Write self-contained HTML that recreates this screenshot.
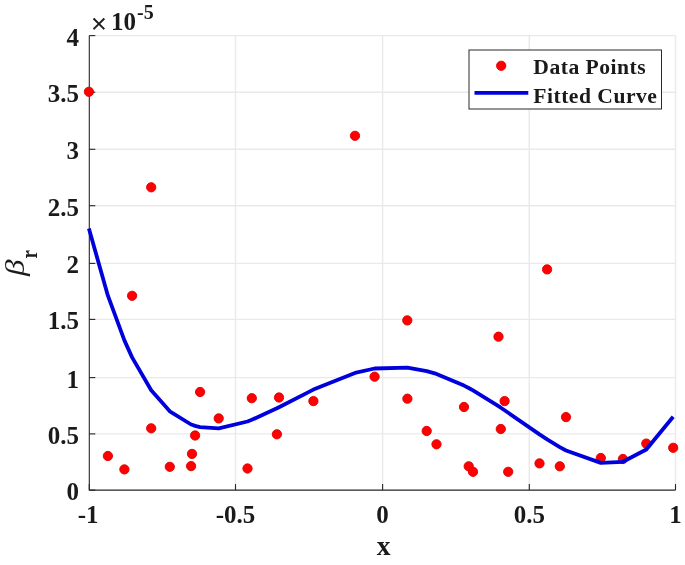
<!DOCTYPE html>
<html><head><meta charset="utf-8"><style>
html,body{margin:0;padding:0;background:#fff;}
svg{display:block;will-change:transform;}
text{font-family:"Liberation Serif",serif;font-weight:bold;fill:#1a1a1a;}
</style></head><body>
<svg width="685" height="565" viewBox="0 0 685 565">
<rect width="685" height="565" fill="#fff"/>
<g stroke="#e9e9e9" stroke-width="1.4"><line x1="235.5" y1="35.6" x2="235.5" y2="490.1"/><line x1="382.6" y1="35.6" x2="382.6" y2="490.1"/><line x1="529.3" y1="35.6" x2="529.3" y2="490.1"/><line x1="675.5" y1="35.6" x2="675.5" y2="490.1"/><line x1="89.3" y1="433.90" x2="675.5" y2="433.90"/><line x1="89.3" y1="377.60" x2="675.5" y2="377.60"/><line x1="89.3" y1="319.40" x2="675.5" y2="319.40"/><line x1="89.3" y1="263.40" x2="675.5" y2="263.40"/><line x1="89.3" y1="205.70" x2="675.5" y2="205.70"/><line x1="89.3" y1="149.30" x2="675.5" y2="149.30"/><line x1="89.3" y1="92.20" x2="675.5" y2="92.20"/><line x1="89.3" y1="35.60" x2="675.5" y2="35.60"/></g>
<g stroke="#262626" stroke-width="1.1" fill="none">
<polyline points="89.3,35.6 89.3,490.1 675.5,490.1"/>
<line x1="89.3" y1="490.1" x2="89.3" y2="484.1"/><line x1="235.5" y1="490.1" x2="235.5" y2="484.1"/><line x1="382.6" y1="490.1" x2="382.6" y2="484.1"/><line x1="529.3" y1="490.1" x2="529.3" y2="484.1"/><line x1="675.5" y1="490.1" x2="675.5" y2="484.1"/><line x1="89.3" y1="490.10" x2="95.3" y2="490.10"/><line x1="89.3" y1="433.90" x2="95.3" y2="433.90"/><line x1="89.3" y1="377.60" x2="95.3" y2="377.60"/><line x1="89.3" y1="319.40" x2="95.3" y2="319.40"/><line x1="89.3" y1="263.40" x2="95.3" y2="263.40"/><line x1="89.3" y1="205.70" x2="95.3" y2="205.70"/><line x1="89.3" y1="149.30" x2="95.3" y2="149.30"/><line x1="89.3" y1="92.20" x2="95.3" y2="92.20"/><line x1="89.3" y1="35.60" x2="95.3" y2="35.60"/>
</g>
<g fill="#ff0000" stroke="#dc0000" stroke-width="0.9"><circle cx="88.9" cy="91.8" r="4.65"/><circle cx="107.9" cy="456.0" r="4.65"/><circle cx="124.4" cy="469.4" r="4.65"/><circle cx="132.1" cy="295.8" r="4.65"/><circle cx="151.2" cy="187.3" r="4.65"/><circle cx="151.2" cy="428.3" r="4.65"/><circle cx="169.8" cy="466.8" r="4.65"/><circle cx="191.1" cy="466.1" r="4.65"/><circle cx="192.0" cy="453.9" r="4.65"/><circle cx="195.1" cy="435.5" r="4.65"/><circle cx="200.1" cy="392.0" r="4.65"/><circle cx="218.7" cy="418.4" r="4.65"/><circle cx="247.5" cy="468.5" r="4.65"/><circle cx="251.8" cy="398.2" r="4.65"/><circle cx="276.9" cy="434.3" r="4.65"/><circle cx="279.0" cy="397.5" r="4.65"/><circle cx="313.4" cy="401.1" r="4.65"/><circle cx="355.0" cy="135.8" r="4.65"/><circle cx="374.6" cy="376.7" r="4.65"/><circle cx="407.3" cy="320.4" r="4.65"/><circle cx="407.4" cy="398.7" r="4.65"/><circle cx="426.7" cy="431.0" r="4.65"/><circle cx="436.5" cy="444.3" r="4.65"/><circle cx="464.0" cy="407.0" r="4.65"/><circle cx="468.7" cy="466.3" r="4.65"/><circle cx="473.0" cy="471.8" r="4.65"/><circle cx="498.5" cy="336.7" r="4.65"/><circle cx="500.8" cy="429.0" r="4.65"/><circle cx="504.6" cy="401.1" r="4.65"/><circle cx="508.2" cy="471.8" r="4.65"/><circle cx="539.5" cy="463.4" r="4.65"/><circle cx="547.1" cy="269.4" r="4.65"/><circle cx="559.8" cy="466.3" r="4.65"/><circle cx="566.0" cy="417.1" r="4.65"/><circle cx="600.8" cy="458.0" r="4.65"/><circle cx="622.9" cy="459.0" r="4.65"/><circle cx="646.3" cy="443.6" r="4.65"/><circle cx="673.2" cy="447.8" r="4.65"/></g>
<polyline points="88.9,228.6 107.9,295.7 124.4,340.4 132.1,357.4 151.2,390.3 151.2,390.3 169.8,411.3 191.1,424.5 192.0,424.8 195.1,425.9 200.1,427.1 218.7,428.3 247.5,421.5 251.8,419.8 276.9,408.3 279.0,407.2 313.4,389.6 355.0,372.9 374.6,368.5 407.3,367.6 407.4,367.6 426.7,371.1 436.5,373.9 464.0,385.6 468.7,388.0 473.0,390.4 498.5,406.2 500.8,407.7 504.6,410.3 508.2,412.8 539.5,434.4 547.1,439.4 559.8,447.1 566.0,450.5 600.8,462.9 622.9,461.8 646.3,449.5 673.2,416.7" fill="none" stroke="#0000dc" stroke-width="3.8" stroke-linejoin="round"/>
<g font-size="25"><text x="79.0" y="500.1" text-anchor="end">0</text><text x="79.0" y="443.9" text-anchor="end">0.5</text><text x="79.0" y="387.6" text-anchor="end">1</text><text x="79.0" y="329.4" text-anchor="end">1.5</text><text x="79.0" y="273.4" text-anchor="end">2</text><text x="79.0" y="215.7" text-anchor="end">2.5</text><text x="79.0" y="159.3" text-anchor="end">3</text><text x="79.0" y="102.2" text-anchor="end">3.5</text><text x="79.0" y="45.6" text-anchor="end">4</text><text x="88.1" y="522.7" text-anchor="middle">-1</text><text x="235.5" y="522.7" text-anchor="middle">-0.5</text><text x="382.6" y="522.7" text-anchor="middle">0</text><text x="529.3" y="522.7" text-anchor="middle">0.5</text><text x="675.5" y="522.7" text-anchor="middle">1</text></g>
<text x="383.5" y="555.2" font-size="27.5" text-anchor="middle">x</text>
<g transform="translate(23.7,276) rotate(-90)">
<text x="0" y="0" font-size="27.5" style="font-style:italic;font-weight:normal" transform="scale(1.2,1)">β</text>
<text x="0" y="0" font-size="23" transform="translate(17.6,13) scale(0.82,1)">r</text>
</g>
<text x="91" y="33" font-size="28" style="font-weight:normal" stroke="#1a1a1a" stroke-width="0.5">×</text>
<text x="111" y="29.6" font-size="25">10</text>
<text x="137" y="19.0" font-size="20">-5</text>
<rect x="469" y="50" width="192.5" height="59" fill="#fff" stroke="#2a2a2a" stroke-width="1.0"/>
<circle cx="501.2" cy="65.8" r="4.65" fill="#ff0000" stroke="#dc0000" stroke-width="0.9"/>
<line x1="474.5" y1="92.9" x2="528.3" y2="92.9" stroke="#0000dc" stroke-width="3.6"/>
<g font-size="21.6" letter-spacing="0.5"><text x="533.3" y="74.4">Data Points</text><text x="533.3" y="102.5">Fitted Curve</text></g>
</svg>
</body></html>
